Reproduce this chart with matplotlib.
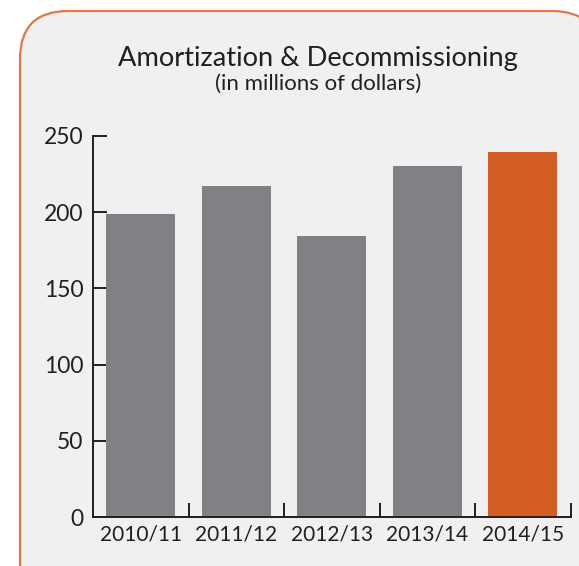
import matplotlib
matplotlib.use("Agg")
import matplotlib.pyplot as plt
from matplotlib.patches import FancyBboxPatch

plt.rcParams['font.family'] = ['Lato', 'DejaVu Sans']

# Data
years = ["2010/11", "2011/12", "2012/13", "2013/14", "2014/15"]
amounts = [199, 217, 184, 230, 239]
bar_colors = ["#808184", "#808184", "#808184", "#808184", "#d35f27"]
y_ticks = [0, 50, 100, 150, 200, 250]

W, H = 579, 566
fig = plt.figure(figsize=(W / 100, H / 100), dpi=100)
fig.patch.set_facecolor("white")

# Rounded panel behind the chart (runs past the right and bottom edges)
left, top, right, bottom, rad = 20, H - 11, 600, -60, 48
panel = FancyBboxPatch(
    (left + rad, bottom + rad), (right - left) - 2 * rad, (top - bottom) - 2 * rad,
    boxstyle=f"round,pad={rad}",
    transform=None, facecolor="#f0f0f0", edgecolor="#e07a45",
    linewidth=1.6, zorder=-5,
)
fig.patches.append(panel)

ax = fig.add_axes([93 / W, 1 - 517.3 / H, (570.5 - 93) / W, (517.3 - 135.7) / H])
ax.set_facecolor("none")
ax.set_zorder(2)

x = list(range(len(years)))
ax.bar(x, amounts, width=0.72, color=bar_colors, zorder=2)

ax.set_xlim(-0.5, len(years) - 0.5)
ax.set_ylim(0, 250)
ax.set_yticks(y_ticks)
ax.set_yticklabels([str(v) for v in y_ticks])

# category labels centred on bars, ticks at category boundaries
ax.set_xticks(x)
ax.set_xticklabels(years)
ax.tick_params(axis="x", which="major", length=0, pad=5, labelsize=15)
ax.set_xticks([i + 0.5 for i in x], minor=True)
ax.tick_params(axis="x", which="minor", direction="in", length=10, width=1.4, color="#231f20")

ax.tick_params(axis="y", direction="in", length=10, width=1.4, color="#231f20",
               pad=7, labelsize=16.5)
ax.tick_params(labelcolor="#231f20")

for s in ["top", "right"]:
    ax.spines[s].set_visible(False)
for s in ["left", "bottom"]:
    ax.spines[s].set_linewidth(1.4)
    ax.spines[s].set_color("#231f20")

fig.text(318 / W, 1 - 58 / H, "Amortization & Decommissioning",
         ha="center", va="center", fontsize=19.6, color="#231f20", zorder=3)
fig.text(318 / W, 1 - 84 / H, "(in millions of dollars)",
         ha="center", va="center", fontsize=16, color="#231f20", zorder=3)

fig.savefig("out.png", dpi=100, facecolor=fig.get_facecolor())
